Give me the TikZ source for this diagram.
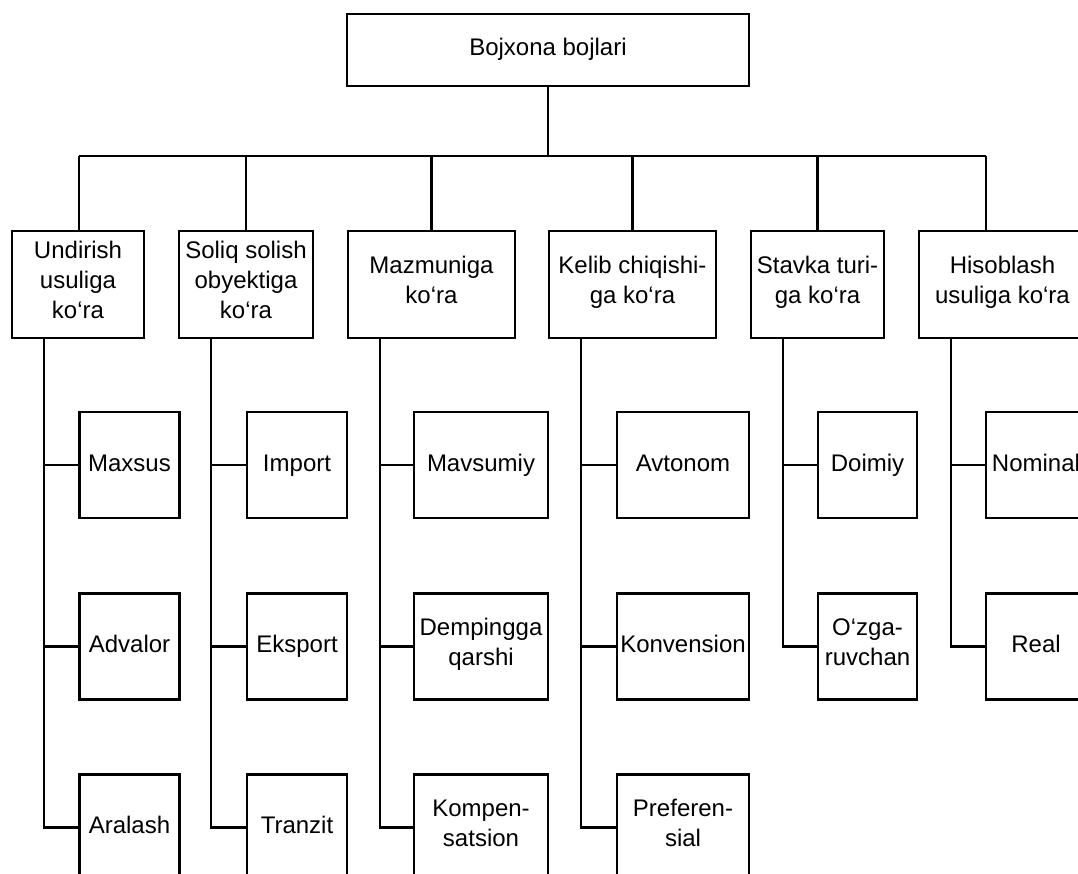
\documentclass[tikz,border=0pt]{standalone}
\usepackage{fontspec}
\setmainfont{Liberation Sans}
\usetikzlibrary{calc}
\begin{document}
\begin{tikzpicture}[x=1pt,y=-1pt,
  box/.style={draw, line width=2.8pt, align=center, inner sep=0pt,
    font=\fontsize{24}{30}\selectfont,
    execute at begin node=\strut, execute at end node=\strut},
  lvl/.style={box, minimum height=107pt},
  leaf/.style={box, minimum height=106pt},
  conn/.style={line width=2.2pt}]
\useasboundingbox (0,0) rectangle (1078,874);
\clip (0,0) rectangle (1078,874);

% root
\node[box, minimum width=402pt, minimum height=72pt] (root) at (548,50) {Bojxona bojlari};

% level 1
\node[lvl, minimum width=132pt] (u1) at (78,284.5) {Undirish\\usuliga\\ko‘ra};
\node[lvl, minimum width=134pt] (u2) at (246,284.5) {Soliq solish\\obyektiga\\ko‘ra};
\node[lvl, minimum width=167pt] (u3) at (431.5,284.5) {Mazmuniga\\ko‘ra};
\node[lvl, minimum width=167pt] (u4) at (632.5,284.5) {Kelib chiqishi-\\ga ko‘ra};
\node[lvl, minimum width=133pt] (u5) at (817.5,284.5) {Stavka turi-\\ga ko‘ra};
\node[lvl, minimum width=167pt] (u6) at (1002.5,284.5) {Hisoblash\\usuliga ko‘ra};

% leaves column 1
\node[leaf, minimum width=100pt] (c11) at (129.5,465) {Maxsus};
\node[leaf, minimum width=100pt] (c12) at (129.5,646.5) {Advalor};
\node[leaf, minimum width=100pt] (c13) at (129.5,827.5) {Aralash};
% column 2
\node[leaf, minimum width=100pt] (c21) at (297,465) {Import};
\node[leaf, minimum width=100pt] (c22) at (297,646.5) {Eksport};
\node[leaf, minimum width=100pt] (c23) at (297,827.5) {Tranzit};
% column 3
\node[leaf, minimum width=134pt] (c31) at (481,465) {Mavsumiy};
\node[leaf, minimum width=134pt] (c32) at (481,646.5) {Dempingga\\qarshi};
\node[leaf, minimum width=134pt] (c33) at (481,827.5) {Kompen-\\satsion};
% column 4
\node[leaf, minimum width=132pt] (c41) at (683,465) {Avtonom};
\node[leaf, minimum width=132pt] (c42) at (683,646.5) {Konvension};
\node[leaf, minimum width=132pt] (c43) at (683,827.5) {Preferen-\\sial};
% column 5
\node[leaf, minimum width=99pt] (c51) at (867.5,465) {Doimiy};
\node[leaf, minimum width=99pt] (c52) at (867.5,646.5) {O‘zga-\\ruvchan};
% column 6
\node[leaf, minimum width=100pt] (c61) at (1036,465) {Nominal};
\node[leaf, minimum width=100pt] (c62) at (1036,646.5) {Real};

% bus
\coordinate (busL) at (79,156);
\coordinate (busR) at (986,156);
\draw[conn] (root.south) -- (root.south |- busL);
\draw[conn] (busL) -- (busR);
\draw[conn] (busL) -- (busL |- u1.north);
\foreach \n in {u2,u3,u4,u5} \draw[conn] (\n.north |- busL) -- (\n.north);
\draw[conn] (busR) -- (busR |- u6.north);

% trunks
\foreach \u/\a/\b/\c in {u1/c11/c12/c13, u2/c21/c22/c23, u3/c31/c32/c33, u4/c41/c42/c43}{
  \coordinate (t) at ($(\u.south west)+(33.5,0)$);
  \draw[conn] (t) |- (\c.west);
  \draw[conn] (t |- \a.west) -- (\a.west);
  \draw[conn] (t |- \b.west) -- (\b.west);
}
\foreach \u/\a/\b in {u5/c51/c52, u6/c61/c62}{
  \coordinate (t) at ($(\u.south west)+(33,0)$);
  \draw[conn] (t) |- (\b.west);
  \draw[conn] (t |- \a.west) -- (\a.west);
}
\end{tikzpicture}
\end{document}
